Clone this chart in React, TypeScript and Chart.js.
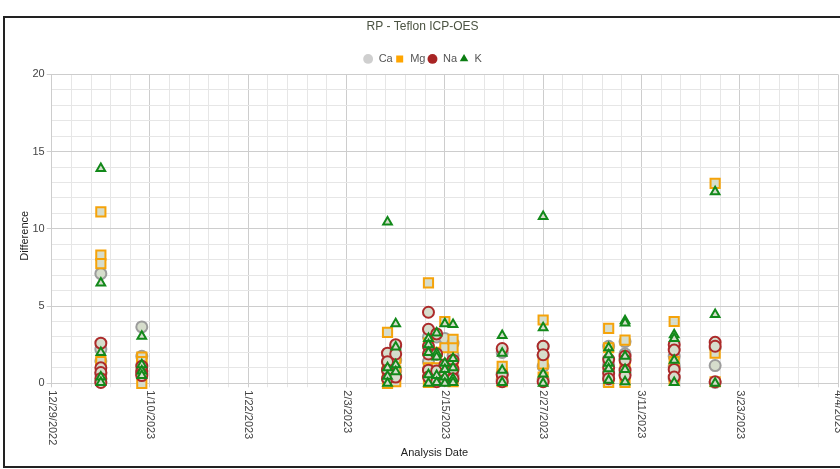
import React, { useEffect, useRef } from 'react';
import { Chart, registerables } from 'chart.js';

Chart.register(...registerables);
Chart.defaults.font.family = "'Liberation Sans', Arial, sans-serif";

// ---- data ----
const chartTitle = 'RP - Teflon ICP-OES';
const xAxisTitle = 'Analysis Date';
const yAxisTitle = 'Difference';
const seriesNames = ['Ca', 'Mg', 'Na', 'K'];
const xTickLabels = ['12/29/2022', '1/10/2023', '1/22/2023', '2/3/2023', '2/15/2023', '2/27/2023', '3/11/2023', '3/23/2023', '4/4/2023'];
const yMin = 0;
const yMax = 20;
const yMajorStep = 5;
const yMinorStep = 1;
const xMinorPerMajor = 5;

const sampleDates = ['2023-01-04', '2023-01-09', '2023-02-08', '2023-02-09', '2023-02-13', '2023-02-14', '2023-02-15', '2023-02-16', '2023-02-22', '2023-02-27', '2023-03-07', '2023-03-09', '2023-03-15', '2023-03-20'];

const caValues = [
  [7.1, 2.2, 1.45, 0.6, 0.1],
  [3.65, 1.75, 1.2, 0.8],
  [1.9, 1.4, 0.9, 0.3],
  [2.4, 1.5, 0.8],
  [3.0, 1.4, 0.9],
  [3.0, 1.9, 0.6],
  [2.9, 1.0, 0.4],
  [2.6, 1.8, 0.5],
  [2.0, 0.6, 0.2],
  [2.4, 1.8, 1.1, 0.2],
  [2.4, 1.2, 0.3],
  [2.7, 1.9, 0.6],
  [1.75, 1.1, 0.3],
  [2.3, 1.15, 0.05],
];

const mgValues = [
  [11.1, 8.3, 7.75, 1.4, 0.9],
  [1.7, 1.4, 0.8, 0.0],
  [3.3, 0.9, 0.3, 0.0],
  [1.6, 0.8, 0.1],
  [6.5, 2.6, 1.0, 0.05],
  [2.0, 1.0, 0.3],
  [4.0, 2.3, 0.5],
  [2.85, 2.3, 1.1, 0.1],
  [1.1, 0.6, 0.1],
  [4.1, 1.25, 0.4],
  [3.55, 2.3, 0.05],
  [2.8, 1.4, 0.05],
  [4.0, 1.4, 0.2],
  [12.95, 1.95, 0.1],
];

const naValues = [
  [2.6, 1.0, 0.7, 0.3, 0.05],
  [1.1, 0.8, 0.6, 0.5],
  [1.95, 1.4, 0.85, 0.3],
  [2.5, 1.9, 0.4],
  [4.6, 3.5, 2.4, 1.9, 0.85, 0.4],
  [3.2, 1.9, 0.8, 0.1],
  [1.2, 0.6, 0.2],
  [1.5, 0.9, 0.3],
  [2.25, 0.55, 0.1],
  [2.4, 1.85, 0.1],
  [1.55, 1.0, 0.65, 0.3],
  [1.75, 1.5, 0.85, 0.5],
  [2.5, 2.15, 0.9, 0.4],
  [2.65, 2.4, 0.1],
];

const kValues = [
  [13.9, 6.5, 2.0, 0.4, 0.05],
  [3.05, 1.2, 0.8, 0.5],
  [10.45, 1.0, 0.45, 0.0],
  [3.85, 2.35, 1.2, 0.75],
  [2.9, 2.5, 2.0, 0.55, 0.0],
  [3.25, 1.95, 1.7, 0.5, 0.05],
  [3.85, 1.3, 0.9, 0.4, 0.0],
  [3.8, 1.6, 1.0, 0.3, 0.05],
  [3.1, 1.95, 0.85, 0.05],
  [10.8, 3.6, 0.6, 0.0],
  [2.3, 1.85, 1.3, 0.95, 0.2],
  [4.05, 3.9, 1.75, 0.9, 0.1],
  [3.15, 2.9, 1.5, 0.05],
  [12.4, 4.45, 0.0],
];

// ---- styles ----
const POINT_FILL = '#d6ddcc';
const seriesBorder = ['#9c9c9c', '#f5a30a', '#ac2a2a', '#12891a'];
const legendColors = ['#cfcfcf', '#ffa500', '#a82424', '#0b7d12'];
const seriesStyle = ['circle', 'rect', 'circle', 'triangle'];
const seriesRadius = [5.5, 6.5, 5.5, 5];
const seriesOrder = [3, 2, 1, 0];
const GRID_MAJOR = '#cdcdcd';
const GRID_MINOR = '#e6e6e6';
const TICK_COLOR = '#444';

// ---- helpers ----
const DAY = 86400000;
const parseMDY = (s: string) => {
  const [m, d, y] = s.split('/').map(Number);
  return Date.UTC(y, m - 1, d);
};
const parseISO = (s: string) => {
  const [y, m, d] = s.split('-').map(Number);
  return Date.UTC(y, m - 1, d);
};
const originMs = parseMDY(xTickLabels[0]);
const dayOf = (ms: number) => Math.round((ms - originMs) / DAY);
const xTickDays = xTickLabels.map((l) => dayOf(parseMDY(l)));
const xMax = xTickDays[xTickDays.length - 1];
const xMajorStep = xTickDays[1] - xTickDays[0];

const buildPoints = (values: number[][]) =>
  sampleDates.flatMap((d, i) => values[i].map((v) => ({ x: dayOf(parseISO(d)), y: v })));

const allValues = [caValues, mgValues, naValues, kValues];

const axisTextPlugin = {
  id: 'axisText',
  beforeUpdate(chart: any) {
    if (chart.legend && !chart.legend.__patched) {
      chart.legend.__patched = true;
      chart.legend.afterFit = function () {
        this.height += 5.5;
      };
    }
  },
  afterDraw(chart: any) {
    const { ctx, chartArea } = chart;
    const x = chart.scales.x;
    ctx.save();
    ctx.fillStyle = TICK_COLOR;
    ctx.font = "11px 'Liberation Sans', Arial, sans-serif";
    ctx.textAlign = 'left';
    ctx.textBaseline = 'middle';
    xTickLabels.forEach((label, i) => {
      const px = x.getPixelForValue(xTickDays[i]);
      ctx.save();
      ctx.translate(px, chartArea.bottom + 7);
      ctx.rotate(Math.PI / 2);
      ctx.fillText(label, 0, 0);
      ctx.restore();
    });
    ctx.fillStyle = '#222';
    ctx.textAlign = 'center';
    ctx.fillText(xAxisTitle, 429.5, 435);
    ctx.save();
    ctx.translate(20, (chartArea.top + chartArea.bottom) / 2 + 7);
    ctx.rotate(-Math.PI / 2);
    ctx.fillText(yAxisTitle, 0, 0);
    ctx.restore();
    ctx.restore();
  },
};

export default function App() {
  const ref = useRef<HTMLCanvasElement>(null);

  useEffect(() => {
    const canvas = ref.current;
    if (!canvas) return;
    const chart = new Chart(canvas, {
      type: 'scatter',
      data: {
        datasets: seriesNames.map((name, i) => ({
          label: name,
          data: buildPoints(allValues[i]),
          pointStyle: seriesStyle[i] as any,
          pointRadius: seriesRadius[i],
          pointHoverRadius: seriesRadius[i],
          pointBorderWidth: 2,
          borderColor: seriesBorder[i],
          backgroundColor: POINT_FILL,
          order: seriesOrder[i],
          clip: false as any,
        })),
      },
      options: {
        animation: false,
        responsive: false,
        maintainAspectRatio: false,
        devicePixelRatio: 1,
        layout: { autoPadding: false, padding: { left: 2, right: 2, top: 0, bottom: 0 } },
        plugins: {
          title: {
            display: true,
            text: chartTitle,
            color: '#4b5342',
            font: { size: 12, weight: 'normal' },
            padding: { top: 1, bottom: 18 },
          },
          legend: {
            position: 'top',
            labels: {
              usePointStyle: true,
              boxWidth: 10,
              boxHeight: 7,
              padding: 2,
              color: '#555',
              font: { size: 11 },
              generateLabels: (c: any) =>
                c.data.datasets.map((ds: any, i: number) => ({
                  text: ds.label,
                  fillStyle: legendColors[i],
                  strokeStyle: legendColors[i],
                  lineWidth: 0,
                  pointStyle: seriesStyle[i],
                  hidden: false,
                  datasetIndex: i,
                  fontColor: '#555',
                })),
            },
          },
          tooltip: { enabled: false },
        },
        scales: {
          x: {
            type: 'linear',
            min: 0,
            max: xMax,
            afterBuildTicks: (s: any) => {
              const n = (xTickDays.length - 1) * xMinorPerMajor;
              s.ticks = Array.from({ length: n + 1 }, (_, i) => ({ value: (i * xMajorStep) / xMinorPerMajor }));
            },
            afterFit: (s: any) => {
              s.height = 82.7;
              s.paddingLeft = 0;
              s.paddingRight = 0;
            },
            ticks: { display: false },
            grid: {
              color: (c: any) => (c.index % xMinorPerMajor === 0 ? GRID_MAJOR : GRID_MINOR),
              tickColor: (c: any) => (c.index % xMinorPerMajor === 0 ? GRID_MAJOR : GRID_MINOR),
              tickLength: 4,
            },
            border: { color: GRID_MAJOR },
            title: { display: false },
          },
          y: {
            type: 'linear',
            min: yMin,
            max: yMax,
            afterFit: (s: any) => {
              s.width = 44.7;
            },
            ticks: {
              stepSize: yMinorStep,
              autoSkip: false,
              color: TICK_COLOR,
              font: { size: 11 },
              padding: 2,
              callback: (v: any) => (Number(v) % yMajorStep === 0 ? String(v) : ''),
            },
            grid: {
              color: (c: any) => (c.tick && c.tick.value % yMajorStep === 0 ? GRID_MAJOR : GRID_MINOR),
              tickColor: (c: any) => (c.tick && c.tick.value % yMajorStep === 0 ? GRID_MAJOR : 'rgba(0,0,0,0)'),
              tickLength: 5,
            },
            border: { color: GRID_MAJOR },
            title: { display: false },
          },
        },
      },
      plugins: [axisTextPlugin],
    } as any);
    return () => chart.destroy();
  }, []);

  return (
    <div style={{ position: 'fixed', left: 0, top: 0, width: 840, height: 469, overflow: 'hidden', background: '#fff' }}>
      <div style={{ position: 'absolute', left: 3, top: 16, width: 900, height: 448, border: '2px solid #222' }}>
        <canvas ref={ref} width={835} height={448} style={{ position: 'absolute', left: 0, top: 0, width: 835, height: 448 }} />
      </div>
    </div>
  );
}
